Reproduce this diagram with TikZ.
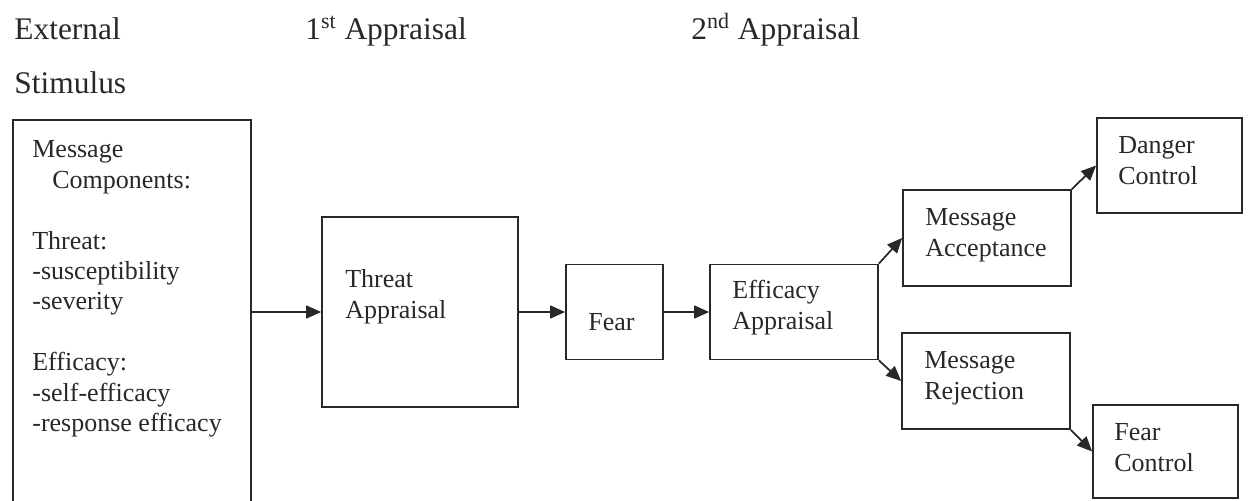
\documentclass[tikz,border=0pt]{standalone}
\usepackage{fontspec}
\setmainfont{Liberation Serif}
\usetikzlibrary{arrows.meta}
\definecolor{ink}{RGB}{40,40,40}
\tikzset{
  boxnode/.style={draw=ink, line width=1pt, inner sep=0pt},
  boxtext/.style={anchor=base west, inner sep=0pt, align=left, text=ink,
    font=\fontsize{14.8pt}{17.4pt}\selectfont},
  headtext/.style={anchor=base west, inner sep=0pt, text=ink,
    font=\fontsize{17.9pt}{20pt}\selectfont},
  conn/.style={draw=ink, line width=1pt, -{Triangle[length=0.3cm,width=0.26cm]}}
}
\begin{document}
\begin{tikzpicture}[x=0.02cm, y=-0.02cm]
\useasboundingbox (0,0) rectangle (1250,500);
\clip (0,0) rectangle (1250,500);
% headings
\node[headtext] (ext) at (14,40) {External};
\node[headtext] (stim) at (14,93) {Stimulus};
\node[headtext] (first) at (305,40) {1\textsuperscript{st} Appraisal};
\node[headtext] (second) at (691,40) {2\textsuperscript{nd} Appraisal};
% boxes
\node[boxnode, minimum width=4.76cm, minimum height=7.7cm] (big) at (132,312.5) {};
\node[boxnode, minimum width=3.92cm, minimum height=3.8cm] (threat) at (420,312) {};
\node[boxnode, minimum width=1.94cm, minimum height=1.9cm] (fear) at (614.5,312) {};
\node[boxnode, minimum width=3.36cm, minimum height=1.9cm] (eff) at (794,312) {};
\node[boxnode, minimum width=3.36cm, minimum height=1.92cm] (acc) at (987,238) {};
\node[boxnode, minimum width=3.36cm, minimum height=1.92cm] (rej) at (986,381) {};
\node[boxnode, minimum width=2.9cm, minimum height=1.9cm] (danger) at (1169.5,165.5) {};
\node[boxnode, minimum width=2.9cm, minimum height=1.86cm] (fearctl) at (1165.5,451.5) {};
% box texts (anchored at the baseline of their last line)
\node[boxtext, font=\fontsize{14.8pt}{17.3pt}\selectfont] (bigtext) at (32,431.5) {Message\\
\hspace*{0.4cm}Components:\\[17.3pt]
Threat:\\
-susceptibility\\
-severity\\[17.3pt]
Efficacy:\\
-self-efficacy\\
-response efficacy};
\node[boxtext] (threattext) at (345,318) {Threat\\Appraisal};
\node[boxtext] (feartext) at (588,330) {Fear};
\node[boxtext] (efftext) at (732,329) {Efficacy\\Appraisal};
\node[boxtext] (acctext) at (925,256) {Message\\Acceptance};
\node[boxtext] (rejtext) at (924,399) {Message\\Rejection};
\node[boxtext] (dangertext) at (1118,184) {Danger\\Control};
\node[boxtext] (fearctltext) at (1114,471) {Fear\\Control};
% connectors
\draw[conn] (big.east |- threat.west) -- (threat.west);
\draw[conn] (threat.east) -- (fear.west);
\draw[conn] (fear.east) -- (eff.west);
\draw[conn] (eff.north east) -- (acc.west);
\draw[conn] (eff.south east) -- (rej.west);
\draw[conn] (acc.north east) -- (danger.west);
\draw[conn] (rej.south east) -- (fearctl.west);
\end{tikzpicture}
\end{document}
